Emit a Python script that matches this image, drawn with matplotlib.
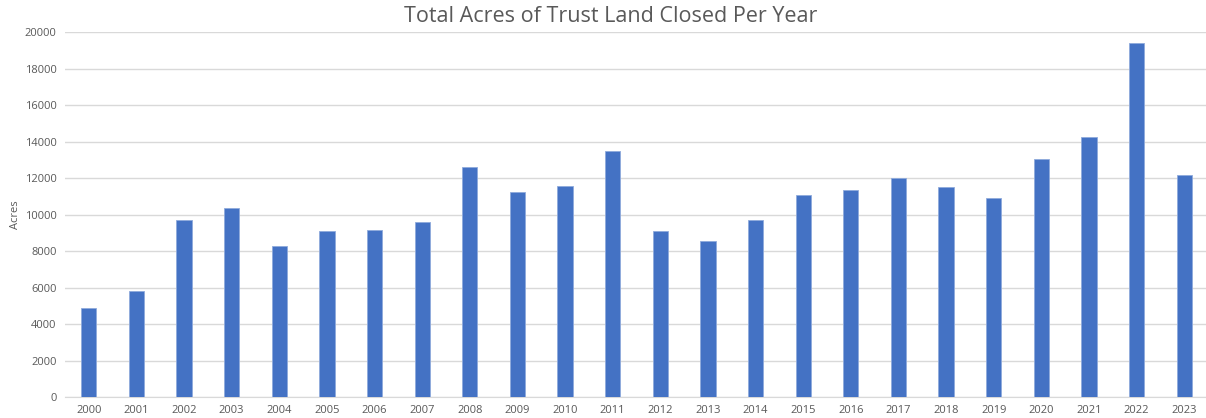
import matplotlib
matplotlib.use("Agg")
import matplotlib.pyplot as plt

years = [str(y) for y in range(2000, 2024)]
acres = [4860, 5810, 9690, 10380, 8300, 9090, 9180, 9600, 12610, 11240, 11590, 13470,
         9090, 8570, 9690, 11080, 11330, 12010, 11500, 10900, 13050, 14240, 19420, 12180]
yticks = list(range(0, 20001, 2000))

fig = plt.figure(figsize=(12.06, 4.18), dpi=100)
ax = fig.add_axes([65/1206, 1 - 397/418, (1208 - 65)/1206, (397 - 32.3)/418])

x = list(range(len(years)))
ax.bar(x, acres, width=0.32, color="#4472C4", edgecolor="#8FAADC", linewidth=0.6, zorder=3)

ax.set_xlim(-0.5, len(years) - 0.5)
ax.set_ylim(0, 20000)
ax.set_yticks(yticks)
ax.set_xticks(x)
ax.set_xticklabels(years)
ax.grid(axis="y", color="#d9d9d9", linewidth=1, zorder=0)
ax.tick_params(axis="both", length=0, labelsize=8, colors="#595959", pad=6)
for s in ["top", "right", "left"]:
    ax.spines[s].set_visible(False)
ax.spines["bottom"].set_color("#d9d9d9")
for lbl in ax.get_xticklabels() + ax.get_yticklabels():
    lbl.set_fontfamily("Open Sans")

ax.set_ylabel("Acres", fontsize=8, color="#595959", fontfamily="Open Sans", labelpad=3)
fig.text(0.5 + 8/1206, 1 - 17/418, "Total Acres of Trust Land Closed Per Year", ha="center", va="center",
         fontsize=15.5, color="#595959", fontfamily="Open Sans")

fig.savefig("out.png", dpi=100)
